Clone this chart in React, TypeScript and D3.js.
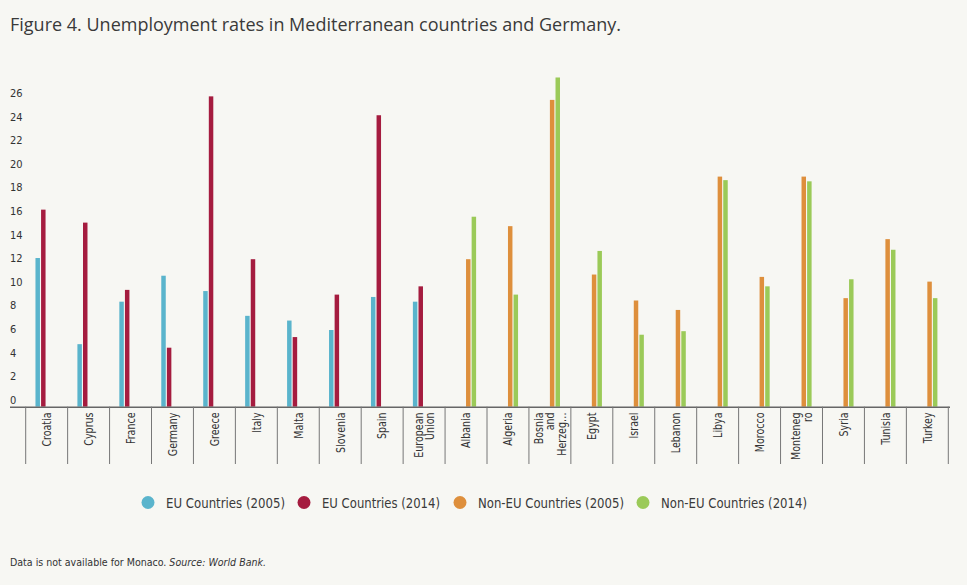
import React from "react";
import * as d3 from "d3";

const categories: string[][] = [
  ["Croatia"], ["Cyprus"], ["France"], ["Germany"], ["Greece"], ["Italy"], ["Malta"],
  ["Slovenia"], ["Spain"], ["European", "Union"], ["Albania"], ["Algeria"],
  ["Bosnia", "and", "Herzeg…"], ["Egypt"], ["Israel"], ["Lebanon"], ["Libya"],
  ["Morocco"], ["Monteneg", "ro"], ["Syria"], ["Tunisia"], ["Turkey"],
];

const eu2005 = [12.6, 5.3, 8.9, 11.1, 9.8, 7.7, 7.3, 6.5, 9.3, 8.9, 0, 0, 0, 0, 0, 0, 0, 0, 0, 0, 0, 0];
const eu2014 = [16.7, 15.6, 9.9, 5.0, 26.3, 12.5, 5.9, 9.5, 24.7, 10.2, 0, 0, 0, 0, 0, 0, 0, 0, 0, 0, 0, 0];
const nonEu2005 = [0, 0, 0, 0, 0, 0, 0, 0, 0, 0, 12.5, 15.3, 26.0, 11.2, 9.0, 8.2, 19.5, 11.0, 19.5, 9.2, 14.2, 10.6];
const nonEu2014 = [0, 0, 0, 0, 0, 0, 0, 0, 0, 0, 16.1, 9.5, 27.9, 13.2, 6.1, 6.4, 19.2, 10.2, 19.1, 10.8, 13.3, 9.2];

const seriesNames = ["EU Countries (2005)", "EU Countries (2014)", "Non-EU Countries (2005)", "Non-EU Countries (2014)"];
const seriesColors = ["#5ab4cc", "#a51c3f", "#de8f3c", "#9bca58"];
const seriesValues = [eu2005, eu2014, nonEu2005, nonEu2014];
const yTicks = [0, 2, 4, 6, 8, 10, 12, 14, 16, 18, 20, 22, 24, 26];

const W = 967;
const H = 585;
const BG = "#f7f7f3";
const FONT = "'DejaVu Sans', sans-serif";

// legend layout (pixels)
const legendCircleX = [148, 304, 460, 643];
const legendTextLen = [119, 118, 146, 146];

export default function App() {
  const x0 = d3.scaleBand<number>().domain(d3.range(categories.length)).range([25.7, 948.3]).padding(0);
  const groupW = 22.4;
  const x1 = d3.scaleBand<number>().domain([0, 1, 2, 3]).range([0, groupW]).padding(0);
  const barW = x1.bandwidth() * 0.8;
  const y = d3.scaleLinear().domain([0, 28]).range([406.7, 406.7 - 28 * 11.8]);
  const baseY = y(0);

  return (
    <div style={{ position: "fixed", left: 0, top: 0, width: W, height: H, background: BG }}>
      <svg width={W} height={H} style={{ display: "block" }}>
        <rect x={0} y={0} width={W} height={H} fill={BG} />
        <text x={10} y={31} fontFamily="'Open Sans', 'Noto Sans', sans-serif" fontSize={18} fill="#3a3a3a">
          Figure 4. Unemployment rates in Mediterranean countries and Germany.
        </text>

        {yTicks.map((t) => (
          <text key={t} x={10} y={y(t) - 3} fontFamily={FONT} fontStretch="condensed" fontSize={11} fill="#333">
            {t}
          </text>
        ))}

        {seriesValues.map((vals, s) =>
          vals.map((v, i) =>
            v > 0 ? (
              <rect
                key={`${s}-${i}`}
                x={(x0(i) as number) + (x0.bandwidth() - groupW) / 2 + (x1(s) as number)}
                y={y(v)}
                width={barW}
                height={baseY - y(v)}
                fill={seriesColors[s]}
              />
            ) : null
          )
        )}

        <line x1={10} x2={950} y1={baseY + 0.5} y2={baseY + 0.5} stroke="#666" strokeWidth={1.6} />
        {d3.range(categories.length + 1).map((i) => {
          const xx = i < categories.length ? (x0(i) as number) : 948.3;
          return <line key={i} x1={xx} x2={xx} y1={baseY} y2={464} stroke="#777" strokeWidth={1} />;
        })}

        {categories.map((lines, i) => {
          const cx = (x0(i) as number) + x0.bandwidth() / 2;
          const n = lines.length;
          const lh = 11.5;
          return lines.map((ln, k) => {
            const bx = cx + 4.3 - ((n - 1) * lh) / 2 + k * lh;
            return (
              <text
                key={`${i}-${k}`}
                transform={`translate(${bx},412.5) rotate(-90) scale(0.88,1)`}
                textAnchor="end"
                fontFamily={FONT}
                fontStretch="condensed"
                fontSize={12}
                fill="#333"
              >
                {ln}
              </text>
            );
          });
        })}

        {seriesNames.map((nm, s) => (
          <g key={nm}>
            <circle cx={legendCircleX[s]} cy={502.5} r={6.5} fill={seriesColors[s]} />
            <text
              x={legendCircleX[s] + 18}
              y={507.5}
              fontFamily={FONT}
              fontStretch="condensed"
              fontSize={13.5}
              fill="#3a3a3a"
              textLength={legendTextLen[s]}
              lengthAdjust="spacingAndGlyphs"
            >
              {nm}
            </text>
          </g>
        ))}

        <text x={10} y={566} fontFamily={FONT} fontStretch="condensed" fontSize={10.5} fill="#333" textLength={256} lengthAdjust="spacingAndGlyphs">
          Data is not available for Monaco. <tspan fontStyle="italic">Source: World Bank.</tspan>
        </text>
      </svg>
    </div>
  );
}
